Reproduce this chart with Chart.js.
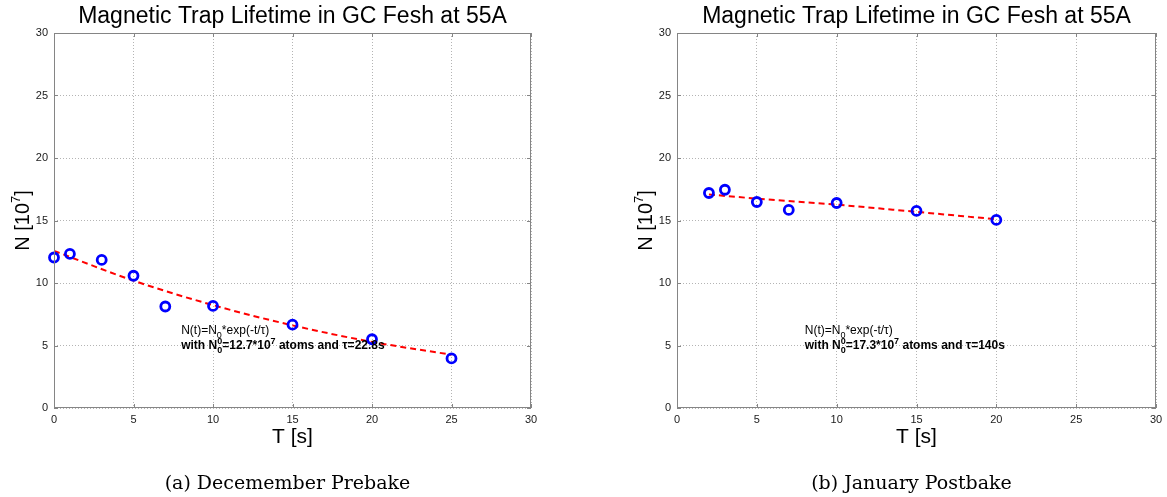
<!DOCTYPE html>
<html>
<head>
<meta charset="utf-8">
<script src="https://cdn.jsdelivr.net/npm/chart.js@4/dist/chart.umd.min.js"></script>
<style>
  html, body { margin: 0; padding: 0; background: #fff; }
  #wrap { position: relative; width: 1167px; height: 497px; }
  canvas { position: absolute; top: 0; }
  #c1 { left: 0; }
  #c2 { left: 583px; }
</style>
</head>
<body>
<div id="wrap">
  <canvas id="c1" width="583" height="497"></canvas>
  <canvas id="c2" width="584" height="497"></canvas>
</div>
<script>
// December run (before bake)
const decTimes = [0, 1, 3, 5, 7, 10, 15, 20, 25];
const decCounts = [12.04, 12.33, 11.85, 10.58, 8.12, 8.17, 6.67, 5.50, 3.97];
const decFitTimes = [0, 5, 10, 15, 20, 25];
const decFitCounts = [12.57, 10.19, 8.23, 6.61, 5.29, 4.26];

// January run (after bake)
const janTimes = [2, 3, 5, 7, 10, 15, 20];
const janCounts = [17.20, 17.46, 16.48, 15.85, 16.40, 15.77, 15.05];
const janFitTimes = [2, 5, 10, 15, 20];
const janFitCounts = [17.08, 16.75, 16.27, 15.69, 15.10];

const tickValues = [0, 5, 10, 15, 20, 25, 30];
const chartTitle = 'Magnetic Trap Lifetime in GC Fesh at 55A';

const SANS = 'Arial, "Liberation Sans", Helvetica, sans-serif';
const SERIF = '"DejaVu Serif", "Liberation Serif", serif';

// draws a run of text pieces; 'sub' / 'sup' pieces are smaller and shifted
function drawRuns(ctx, x, y, runs, size, weight) {
    runs.forEach(r => {
        if (r.stack) {
            // superscript and subscript stacked at the same x
            ctx.font = weight + ' ' + Math.round(size * 0.72) + 'px ' + SANS;
            ctx.fillText(r.stack, x, y - size * 0.42);
            ctx.fillText(r.stack, x, y + size * 0.35);
            x += ctx.measureText(r.stack).width;
            return;
        }
        const small = r.sub || r.sup;
        const s = small ? Math.round(size * 0.72) : size;
        ctx.font = weight + ' ' + s + 'px ' + SANS;
        const dy = r.sub ? size * 0.35 : (r.sup ? -size * 0.42 : 0);
        const txt = r.t || r.sub || r.sup;
        ctx.fillText(txt, x, y + dy);
        x += ctx.measureText(txt).width;
    });
}

const decorations = {
    id: 'decorations',
    afterDatasetsDraw(chart, args, opts) {
        const ctx = chart.ctx;
        const area = chart.chartArea;
        const xs = chart.scales.x, ys = chart.scales.y;
        ctx.save();

        // solid box and inward ticks
        ctx.strokeStyle = '#858585';
        ctx.lineWidth = 1;
        ctx.setLineDash([]);
        ctx.strokeRect(area.left + 0.5, area.top + 0.5, area.right - area.left - 1, area.bottom - area.top - 1);
        ctx.beginPath();
        tickValues.forEach(v => {
            const px = Math.round(xs.getPixelForValue(v)) + 0.5;
            ctx.moveTo(px, area.bottom); ctx.lineTo(px, area.bottom - 4);
            ctx.moveTo(px, area.top); ctx.lineTo(px, area.top + 4);
            const py = Math.round(ys.getPixelForValue(v)) + 0.5;
            ctx.moveTo(area.left, py); ctx.lineTo(area.left + 4, py);
            ctx.moveTo(area.right, py); ctx.lineTo(area.right - 4, py);
        });
        ctx.stroke();

        ctx.fillStyle = '#000';
        const cx = (area.left + area.right) / 2;

        // title
        ctx.textAlign = 'center';
        ctx.textBaseline = 'alphabetic';
        ctx.font = '23px ' + SANS;
        ctx.fillText(chartTitle, cx, 23);

        // x axis title
        ctx.font = '21px ' + SANS;
        ctx.fillText('T [s]', cx, 443);

        // y axis title, rotated
        ctx.save();
        ctx.translate(area.left - 25, (area.top + area.bottom) / 2);
        ctx.rotate(-Math.PI / 2);
        ctx.textAlign = 'left';
        ctx.font = '20px ' + SANS;
        const w1 = ctx.measureText('N [10').width;
        ctx.font = '13px ' + SANS;
        const w2 = ctx.measureText('7').width;
        ctx.font = '20px ' + SANS;
        const w3 = ctx.measureText(']').width;
        const tx = -(w1 + w2 + w3) / 2;
        ctx.fillText('N [10', tx, 0);
        ctx.font = '13px ' + SANS;
        ctx.fillText('7', tx + w1, -9);
        ctx.font = '20px ' + SANS;
        ctx.fillText(']', tx + w1 + w2, 0);
        ctx.restore();

        // caption under the panel
        ctx.font = '19px ' + SERIF;
        ctx.fillText(opts.caption, cx - 5, 489);

        // fit annotation
        ctx.textAlign = 'left';
        const ax = xs.getPixelForValue(opts.noteAt[0]);
        const ay = ys.getPixelForValue(opts.noteAt[1]);
        drawRuns(ctx, ax, ay, [{ t: 'N(t)=N' }, { sub: '0' }, { t: '*exp(-t/\u03C4)' }], 12, 'normal');
        drawRuns(ctx, ax, ay + 15, [
            { t: 'with N' }, { stack: '0' },
            { t: '=' + opts.n0 + '*10' }, { sup: '7' },
            { t: ' atoms and \u03C4=' + opts.tau }
        ], 12, 'bold');

        ctx.restore();
    }
};

// fixed axis boxes so the plot area lands where the layout padding puts it
function fixedFit(scale) {
    if (scale.isHorizontal()) scale.height = 25; else scale.width = 40;
    scale.paddingLeft = 0; scale.paddingRight = 0;
    scale.paddingTop = 0; scale.paddingBottom = 0;
}

function axis(pad) {
    return {
        type: 'linear',
        min: 0,
        max: 30,
        afterBuildTicks: s => { s.ticks = tickValues.map(v => ({ value: v })); },
        afterFit: fixedFit,
        ticks: {
            color: '#1a1a1a',
            font: { size: 11, family: SANS },
            padding: pad,
            maxRotation: 0,
            autoSkip: false
        },
        grid: { color: '#b4b4b4', lineWidth: 1, drawTicks: false },
        border: { display: false, dash: [1, 2] }
    };
}

function makePanel(id, times, counts, fitTimes, fitCounts, padding, extra) {
    return new Chart(document.getElementById(id), {
        type: 'scatter',
        data: {
            datasets: [
                {
                    label: 'measured',
                    data: times.map((t, i) => ({ x: t, y: counts[i] })),
                    showLine: false,
                    clip: false,
                    pointRadius: 4.5,
                    pointHoverRadius: 4.5,
                    pointBorderWidth: 2.8,
                    borderColor: '#0000ff',
                    backgroundColor: 'rgba(0, 0, 0, 0)',
                    order: 0
                },
                {
                    label: 'fit',
                    data: fitTimes.map((t, i) => ({ x: t, y: fitCounts[i] })),
                    showLine: true,
                    borderColor: '#ff0000',
                    borderWidth: 2,
                    borderDash: [6, 4],
                    pointRadius: 0,
                    cubicInterpolationMode: 'monotone',
                    fill: false,
                    order: 1
                }
            ]
        },
        options: {
            responsive: false,
            animation: false,
            layout: { padding: padding },
            plugins: {
                legend: { display: false },
                tooltip: { enabled: false },
                decorations: extra
            },
            scales: { x: axis(5), y: axis(6) }
        },
        plugins: [decorations]
    });
}

makePanel('c1', decTimes, decCounts, decFitTimes, decFitCounts,
    { left: 14, top: 33, right: 52, bottom: 64 },
    { caption: '(a) Decemember Prebake', noteAt: [8, 5.92], n0: '12.7', tau: '22.8s' });

makePanel('c2', janTimes, janCounts, janFitTimes, janFitCounts,
    { left: 54, top: 33, right: 11, bottom: 64 },
    { caption: '(b) January Postbake', noteAt: [8, 5.92], n0: '17.3', tau: '140s' });
</script>
</body>
</html>
